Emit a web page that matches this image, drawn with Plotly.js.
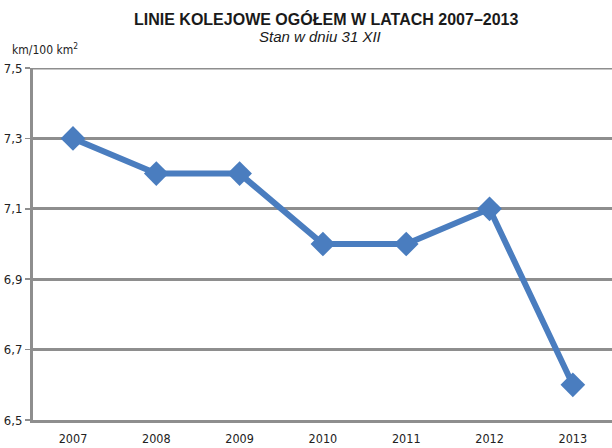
<!DOCTYPE html>
<html><head><meta charset="utf-8">
<script src="https://cdn.plot.ly/plotly-3.0.1.min.js"></script>
<style>body{margin:0;padding:0;background:#fff}#chart{width:612px;height:448px}</style>
</head><body><div id="chart"></div>
<script>
const years = ['2007','2008','2009','2010','2011','2012','2013'];
const density = [7.3, 7.2, 7.2, 7.0, 7.0, 7.1, 6.6];
const yTicks = [6.5, 6.7, 6.9, 7.1, 7.3, 7.5];
const yTickText = ['6,5','6,7','6,9','7,1','7,3','7,5'];

const narrow = '"DejaVu Sans Condensed", "Liberation Sans", sans-serif';
const sans = '"Liberation Sans", Arial, sans-serif';
const grid = '#8e8e8e';

Plotly.newPlot('chart', [{
  x: years, y: density, type: 'scatter', mode: 'lines+markers',
  line: {color: '#4a7dbf', width: 6},
  marker: {symbol: 'diamond', size: 19, color: '#4a7dbf'},
  cliponaxis: false, hoverinfo: 'none'
}], {
  width: 612, height: 448,
  margin: {l: 33, r: 0, t: 68, b: 28},
  paper_bgcolor: '#fff', plot_bgcolor: '#fff',
  showlegend: false,
  xaxis: {type: 'category', range: [-0.48, 6.47], showgrid: false, zeroline: false,
    showline: true, linecolor: grid, linewidth: 3, ticks: '', ticklabelstandoff: 5,
    tickfont: {family: narrow, size: 12.5, color: '#222'}, fixedrange: true},
  yaxis: {range: [6.5, 7.5], tickvals: yTicks, ticktext: yTickText, showgrid: true,
    gridcolor: grid, gridwidth: 3, zeroline: false, showline: true, linecolor: grid, linewidth: 3,
    ticks: 'outside', ticklen: 5, tickwidth: 1.5, tickcolor: grid,
    tickfont: {family: narrow, size: 13, color: '#222'}, fixedrange: true},
  shapes: [{type: 'line', xref: 'paper', yref: 'y', x0: 0, x1: 1, y0: 7.5, y1: 7.5,
    line: {color: grid, width: 3}, layer: 'below'}],
  annotations: [
    {text: '<b>LINIE KOLEJOWE OGÓŁEM W LATACH 2007–2013</b>', xref: 'paper', yref: 'paper',
      x: 0.5, y: (448 - 19 - 28) / 352, xanchor: 'center', yanchor: 'middle', showarrow: false, xshift: 3,
      font: {family: sans, size: 16, color: '#1a1a1a'}},
    {text: '<i>Stan w dniu 31 XII</i>', xref: 'paper', yref: 'paper',
      x: 0.5, y: (448 - 37 - 28) / 352, xanchor: 'center', yanchor: 'middle', showarrow: false, xshift: -3,
      font: {family: sans, size: 15, color: '#1a1a1a'}},
    {text: 'km/100 km<sup>2</sup>', xref: 'paper', yref: 'paper', x: -0.04, y: 1.025,
      xanchor: 'left', yanchor: 'bottom', showarrow: false,
      font: {family: narrow, size: 12, color: '#222'}}]
}, {staticPlot: true});
</script></body></html>
